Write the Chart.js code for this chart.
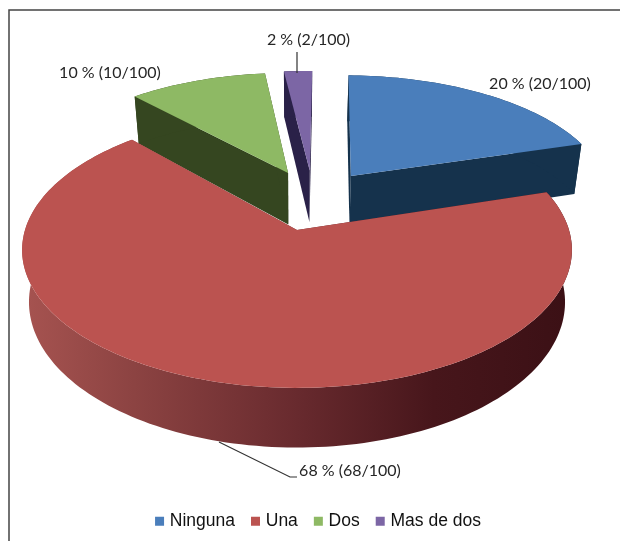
<!DOCTYPE html>
<html>
<head>
<meta charset="utf-8">
<title>Pie</title>
<script src="https://cdn.jsdelivr.net/npm/chart.js@4"></script>
<style>
  html, body { margin: 0; padding: 0; background: #fff; }
  canvas { display: block; }
</style>
</head>
<body>
<canvas id="chart" width="620" height="541"></canvas>
<script>
const categories = ['Ninguna', 'Una', 'Dos', 'Mas de dos']
const values = [20, 68, 10, 2]
const total = 100

const topColors = ['#4a7ebb', '#bb5350', '#8eb964', '#7c66a5']
const wallColors = ['#15324c', null, '#354620', '#2a2148']

// fake 3d settings: tilted disc with a bit of perspective
const tilt = { centerX: 297, centerY: 230, squash: 135, perspective: 0.145, lowerShrink: 0.975 }
// how far each slice is pulled out, as a share of the radius
const explode = [[0.21, -0.424], [0, 0], [-0.035, -0.45], [0.05, -0.47]]
// slices further back look a little flatter
const sliceScale = [[0.985, 0.95], [1, 1], [0.985, 0.95], [1, 0.95]]
const sliceDepth = [55, 51, 55, 55]
// back slices first, the big one goes on top
const drawOrder = [0, 3, 2, 1]

const labelSpots = [
  { x: 540, y: 84 },
  { x: 350, y: 471 },
  { x: 110, y: 73 },
  { x: 308.5, y: 40 }
]

const project = (el, i, x, y, lower) => {
  const w = 1 - tilt.perspective * y
  const px = el.outerRadius * x / w
  return lower
    ? [tilt.centerX + px * tilt.lowerShrink, tilt.centerY + (tilt.squash * y + sliceDepth[i]) / w]
    : [tilt.centerX + px, tilt.centerY + tilt.squash * y / w]
}

const rimPoints = (el, i, lower) => {
  const steps = Math.max(4, Math.ceil((el.endAngle - el.startAngle) * 40))
  return Array.from({ length: steps + 1 }, (_, n) => {
    const a = el.startAngle + (el.endAngle - el.startAngle) * n / steps
    return project(
      el,
      i,
      explode[i][0] + sliceScale[i][0] * Math.cos(a),
      explode[i][1] + sliceScale[i][1] * Math.sin(a),
      lower
    )
  })
}

const fillShape = (ctx, points, color) => {
  ctx.beginPath()
  points.forEach(([x, y], n) => n ? ctx.lineTo(x, y) : ctx.moveTo(x, y))
  ctx.closePath()
  ctx.fillStyle = color
  ctx.fill()
}

const drawSlice = (ctx, el, i, wallGradient) => {
  const wall = wallColors[i] || wallGradient
  const top = rimPoints(el, i, false)
  const low = rimPoints(el, i, true)
  const apexTop = project(el, i, explode[i][0], explode[i][1], false)
  const apexLow = project(el, i, explode[i][0], explode[i][1], true)

  // cut faces, then the outer wall, then the lid
  fillShape(ctx, [apexTop, top[0], low[0], apexLow], wall)
  fillShape(ctx, [apexTop, top[top.length - 1], low[low.length - 1], apexLow], wall)
  fillShape(ctx, [...top, ...low.slice().reverse()], wall)
  fillShape(ctx, [apexTop, ...top], topColors[i])
}

const pie3d = {
  id: 'pie3d',
  beforeDraw: chart => {
    const ctx = chart.ctx
    ctx.save()
    ctx.strokeStyle = '#444'
    ctx.lineWidth = 1.5
    ctx.beginPath()
    ctx.moveTo(9, 541)
    ctx.lineTo(9, 10)
    ctx.lineTo(620, 10)
    ctx.stroke()
    ctx.restore()
  },
  beforeDatasetsDraw: chart => {
    const ctx = chart.ctx
    const arcs = chart.getDatasetMeta(0).data
    const gradient = ctx.createLinearGradient(25, 0, 570, 0)
    gradient.addColorStop(0, '#a65350')
    gradient.addColorStop(0.2, '#8c4342')
    gradient.addColorStop(0.5, '#682a2e')
    gradient.addColorStop(0.75, '#47161b')
    gradient.addColorStop(1, '#3b1015')
    ctx.save()
    drawOrder.forEach(i => drawSlice(ctx, arcs[i], i, gradient))
    ctx.restore()

    // labels and the two leader lines
    ctx.save()
    ctx.strokeStyle = '#333'
    ctx.lineWidth = 1.2
    ctx.beginPath()
    ctx.moveTo(297, 52)
    ctx.lineTo(297, 73)
    ctx.moveTo(219, 442)
    ctx.lineTo(290, 477)
    ctx.lineTo(297, 477)
    ctx.stroke()
    ctx.font = '16px Lato'
    ctx.fillStyle = '#262626'
    ctx.textAlign = 'center'
    ctx.textBaseline = 'middle'
    values.forEach((v, i) => {
      ctx.fillText(`${v} % (${v}/${total})`, labelSpots[i].x, labelSpots[i].y)
    })
    ctx.restore()
    return false
  }
}

new Chart(document.getElementById('chart'), {
  type: 'pie',
  data: {
    labels: categories,
    datasets: [{ data: values, backgroundColor: topColors, borderWidth: 0, radius: 272 }]
  },
  options: {
    responsive: false,
    animation: false,
    rotation: 1,
    layout: { padding: { left: 19, bottom: 1 } },
    plugins: {
      tooltip: { enabled: false },
      legend: {
        position: 'bottom',
        labels: {
          usePointStyle: true,
          pointStyle: 'rect',
          boxWidth: 3,
          boxHeight: 9,
          padding: 19,
          color: '#111',
          font: { family: 'Liberation Sans', size: 17.5 }
        }
      }
    }
  },
  plugins: [pie3d]
})
</script>
</body>
</html>
